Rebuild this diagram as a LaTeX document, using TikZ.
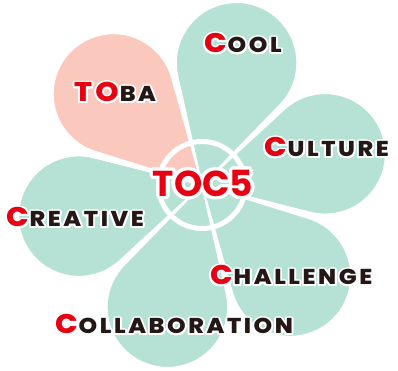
\documentclass[tikz,border=0pt]{standalone}
\usepackage{fontspec}
\setmainfont{Poppins}
\newfontfamily\lblfont{Poppins}[UprightFont=* ExtraBold, LetterSpace=12, FakeStretch=1.1]
\newfontfamily\ctrfont{Poppins}[UprightFont=* Bold]
\usepackage[copies]{contour}
\contourlength{1.8pt}
\contournumber{20}
\definecolor{petalteal}{HTML}{B6E1D5}
\definecolor{petalpink}{HTML}{FBC8BD}
\definecolor{tocred}{HTML}{E60012}
\definecolor{tocdark}{HTML}{231815}
\newcommand\redpart[1]{{\lblfont\fontsize{27}{27}\selectfont\color{tocred}\contour{white}{#1}}}
\newcommand\blkpart[1]{{\lblfont\fontsize{21.5}{21.5}\selectfont\color{tocdark}\contour{white}{#1}}}
\tikzset{
  petal/.style={fill=#1, draw=white, line width=1.5pt},
  lblst/.style={anchor=base west, inner sep=0pt},
}
\begin{document}
\begin{tikzpicture}[x=1pt,y=1pt]
\useasboundingbox (0,0) rectangle (398,371);
\fill[white] (0,0) rectangle (398,371);
\coordinate (ctr) at (202,186);
\foreach \a/\c in {74.2/petalteal,134.2/petalpink,194.2/petalteal,254.2/petalteal,314.2/petalteal,14.2/petalteal}{
  \path[petal=\c, shift={(ctr)}, rotate=\a]
    (0,0) -- (98.18,53.19) arc[start angle=118.45, end angle=-118.45, radius=60.5] -- cycle;
}
\draw[white, line width=5pt] (ctr) circle[radius=43.5];
\node[lblst] (toba) at (74,269) {\redpart{TO}\kern1pt\blkpart{BA}};
\node[lblst] (cool) at (204,318) {\redpart{C}\kern1pt\blkpart{OOL}};
\node[lblst] (culture) at (264,214) {\redpart{C}\kern1pt\blkpart{ULTURE}};
\node[lblst] (creative) at (6,144) {\redpart{C}\kern1pt\blkpart{REATIVE}};
\node[lblst] (challenge) at (210,86) {\redpart{C}\kern1pt\blkpart{HALLENGE}};
\node[lblst] (collab) at (55,37) {\redpart{C}\kern1pt\blkpart{OLLABORATION}};
\node[inner sep=0pt] (toc) at (203,186) {\contourlength{3.2pt}\ctrfont\fontsize{36}{36}\selectfont\color{tocred}\contour{white}{TOC5}};
\end{tikzpicture}
\end{document}
